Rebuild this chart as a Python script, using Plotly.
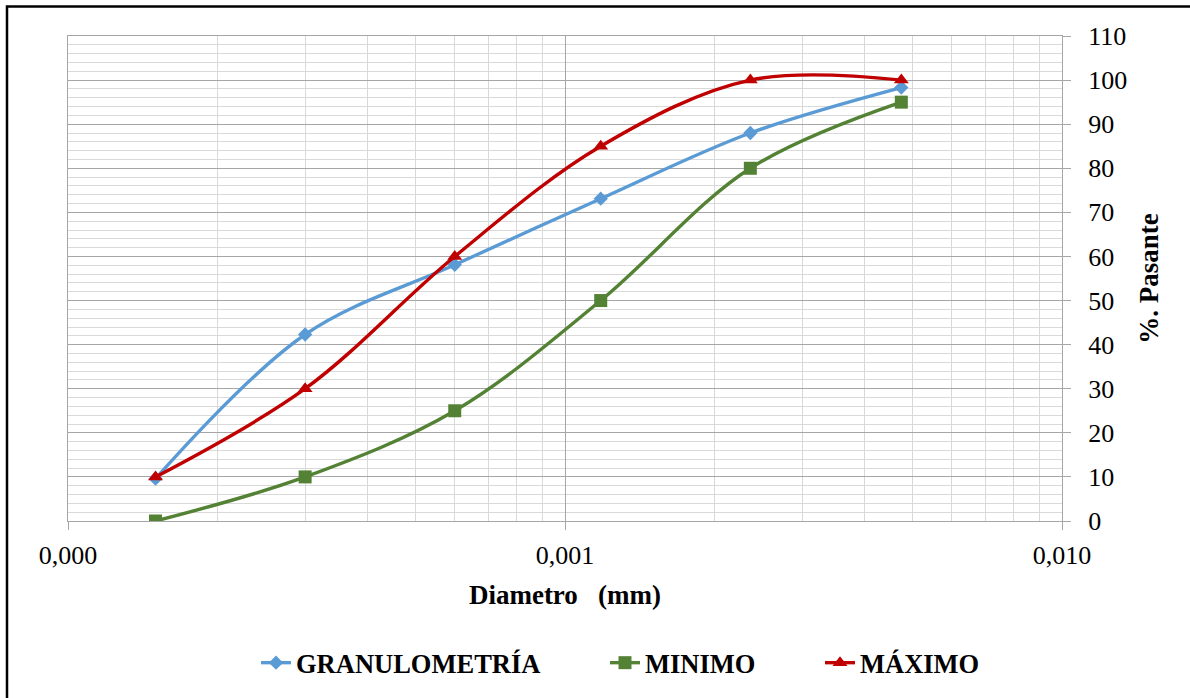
import plotly.graph_objects as go

# ---- data ----
diametro = [0.00015, 0.0003, 0.0006, 0.00118, 0.00236, 0.00475]
granulometria = [9.6, 42.3, 58.1, 73.1, 88.0, 98.3]
minimo = [0, 10, 25, 50, 80, 95]
maximo = [10, 30, 60, 85, 100, 100]

x_tickvals = [0.0001, 0.001, 0.01]
x_ticktext = ["0,000", "0,001", "0,010"]
y_tickvals = list(range(0, 111, 10))

FONT = "Liberation Serif, Times New Roman, serif"
PLOT_L, PLOT_W = 68, 994

fig = go.Figure()

series = [
    ("GRANULOMETRÍA", granulometria, "#5B9BD5", "diamond", 11, "legend", 256),
    ("MINIMO", minimo, "#548235", "square", 13, "legend2", 605),
    ("MÁXIMO", maximo, "#C00000", "triangle-up", 13, "legend3", 820),
]
legend_font = dict(family=FONT, size=26.5, color="black", weight="bold")
legends = {}
for name, vals, color, sym, size, leg, lx in series:
    fig.add_trace(go.Scatter(
        x=diametro, y=vals, name=name, mode="lines+markers",
        line=dict(color=color, width=3.4, shape="spline", smoothing=1),
        marker=dict(symbol=sym, size=size, color=color),
        legend=leg,
    ))
    legends[leg] = dict(
        orientation="h", x=(lx - PLOT_L) / PLOT_W, xanchor="left",
        y=-0.29, yanchor="middle", font=legend_font,
        bgcolor="rgba(0,0,0,0)", borderwidth=0,
    )

fig.update_layout(
    width=1190, height=698,
    margin=dict(l=68, r=128, t=36, b=176),
    paper_bgcolor="white", plot_bgcolor="white",
    font=dict(family=FONT, size=26, color="black"),
    showlegend=True,
    **legends,
    xaxis=dict(
        type="log", range=[-4, -2],
        tickvals=x_tickvals, ticktext=x_ticktext,
        ticks="outside", ticklen=8, tickcolor="#a6a6a6",
        ticklabelstandoff=3,
        showgrid=True, gridcolor="#a6a6a6", gridwidth=1,
        minor=dict(dtick="D1", showgrid=True, gridcolor="#d9d9d9", gridwidth=1, ticks=""),
        showline=True, linecolor="#a6a6a6", linewidth=1, mirror=True,
        zeroline=False,
        tickfont=dict(family=FONT, size=26),
        title=dict(text="Diametro\u00a0\u00a0\u00a0(mm)", font=dict(family=FONT, size=27, weight="bold"), standoff=15),
    ),
    yaxis=dict(
        side="right", range=[0, 110], tickvals=y_tickvals,
        ticks="outside", ticklen=8, tickcolor="#a6a6a6",
        ticklabelstandoff=12,
        showgrid=True, gridcolor="#a6a6a6", gridwidth=1,
        minor=dict(dtick=2, showgrid=True, gridcolor="#d9d9d9", gridwidth=1, ticks=""),
        showline=True, linecolor="#a6a6a6", linewidth=1, mirror=True,
        zeroline=False,
        tickfont=dict(family=FONT, size=26),
        title=dict(text="%. Pasante", font=dict(family=FONT, size=27, weight="bold"), standoff=12),
    ),
)

# outer black frame
fig.add_shape(type="rect", xref="paper", yref="paper",
              x0=-61/994, x1=1.3, y0=-0.5, y1=1 + 29.5/486,
              line=dict(color="black", width=2.5), fillcolor="rgba(0,0,0,0)", layer="above")

fig.write_html("out.html", config={"displayModeBar": False},
               post_script="document.body.style.margin='0';")
